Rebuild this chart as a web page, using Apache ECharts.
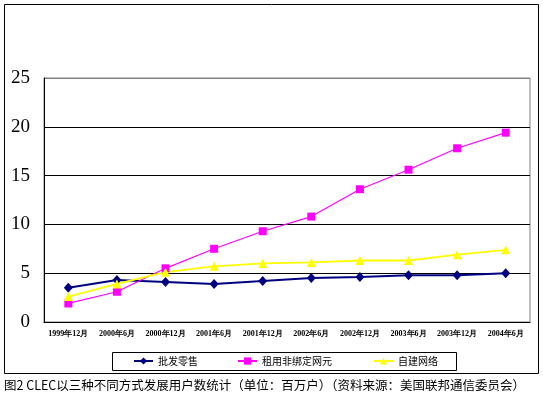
<!DOCTYPE html>
<html>
<head>
<meta charset="utf-8">
<script src="https://cdn.jsdelivr.net/npm/echarts@6/dist/echarts.min.js"></script>
<style>
  html, body { margin: 0; padding: 0; background: #fff; }
  #chart { width: 543px; height: 398px; }
</style>
</head>
<body>
<div id="chart"></div>
<script>
  // 时间点
  var periods = ['1999年12月', '2000年6月', '2000年12月', '2001年6月', '2001年12月',
    '2002年6月', '2002年12月', '2003年6月', '2003年12月', '2004年6月'];
  // 三种方式 (百万户)
  var pifaLingshou = [3.5, 4.3, 4.1, 3.9, 4.2, 4.5, 4.6, 4.8, 4.8, 5.0];
  var zuyongWangyuan = [1.9, 3.1, 5.5, 7.5, 9.3, 10.8, 13.6, 15.6, 17.8, 19.4];
  var zijianWangluo = [2.6, 3.9, 5.1, 5.7, 6.0, 6.1, 6.3, 6.3, 6.9, 7.4];
  var seriesNames = ['批发零售', '租用非绑定网元', '自建网络'];
  var caption = '图2 CLEC以三种不同方式发展用户数统计（单位：百万户）（资料来源：美国联邦通信委员会）';

  var serif = '"Liberation Serif", "Times New Roman", serif';
  var chart = echarts.init(document.getElementById('chart'));

  function legendAt(name, left) {
    return {
      data: [name],
      left: left,
      top: 356,
      itemWidth: 19,
      itemHeight: 9,
      itemGap: 0,
      padding: 0,
      textStyle: { fontSize: 10, color: '#000', fontFamily: 'Noto Sans CJK SC' }
    };
  }

  chart.setOption({
    animation: false,
    backgroundColor: '#fff',
    grid: {
      left: 44, top: 78, right: 13, bottom: 76,
      show: true, borderColor: '#808080', borderWidth: 1
    },
    legend: [
      legendAt(seriesNames[0], 133),
      legendAt(seriesNames[1], 237),
      legendAt(seriesNames[2], 373)
    ],
    xAxis: {
      type: 'category',
      data: periods,
      boundaryGap: true,
      axisLine: { lineStyle: { color: '#000', width: 1 } },
      axisTick: { inside: true, length: 3, lineStyle: { color: '#000' } },
      axisLabel: {
        interval: 0, margin: 8, fontSize: 8, fontWeight: 'bold',
        color: '#000', fontFamily: serif
      }
    },
    yAxis: {
      type: 'value',
      min: 0, max: 25, interval: 5,
      axisLine: { show: true, lineStyle: { color: '#000', width: 1 } },
      axisTick: { show: false },
      axisLabel: {
        margin: 14, fontSize: 19, color: '#000', fontFamily: serif
      },
      splitLine: {
        lineStyle: { color: ['#000', '#000', '#000', '#000', '#000', '#808080'], width: 1 }
      }
    },
    series: [
      {
        name: seriesNames[0], type: 'line', data: pifaLingshou,
        symbol: 'diamond', symbolSize: [9, 10],
        itemStyle: { color: '#000080' },
        lineStyle: { color: '#000080', width: 2 }
      },
      {
        name: seriesNames[1], type: 'line', data: zuyongWangyuan,
        symbol: 'rect', symbolSize: 8,
        itemStyle: { color: '#FF00FF' },
        lineStyle: { color: '#FF00FF', width: 1.2 }
      },
      {
        name: seriesNames[2], type: 'line', data: zijianWangluo,
        symbol: 'triangle', symbolSize: 9,
        itemStyle: { color: '#FFFF00' },
        lineStyle: { color: '#FFFF00', width: 1.8 }
      }
    ],
    graphic: [
      {
        type: 'rect', silent: true, z: -1,
        shape: { x: 4.5, y: 4.5, width: 534, height: 369 },
        style: { fill: 'none', stroke: '#000', lineWidth: 1 }
      },
      {
        type: 'rect', silent: true,
        shape: { x: 112.5, y: 352.5, width: 344, height: 18 },
        style: { fill: 'none', stroke: '#000', lineWidth: 1 }
      },
      {
        type: 'text', left: 4, top: 379,
        style: {
          text: caption, fontSize: 12.5, fill: '#000',
          fontFamily: 'Noto Sans CJK SC'
        }
      }
    ]
  });
</script>
</body>
</html>
